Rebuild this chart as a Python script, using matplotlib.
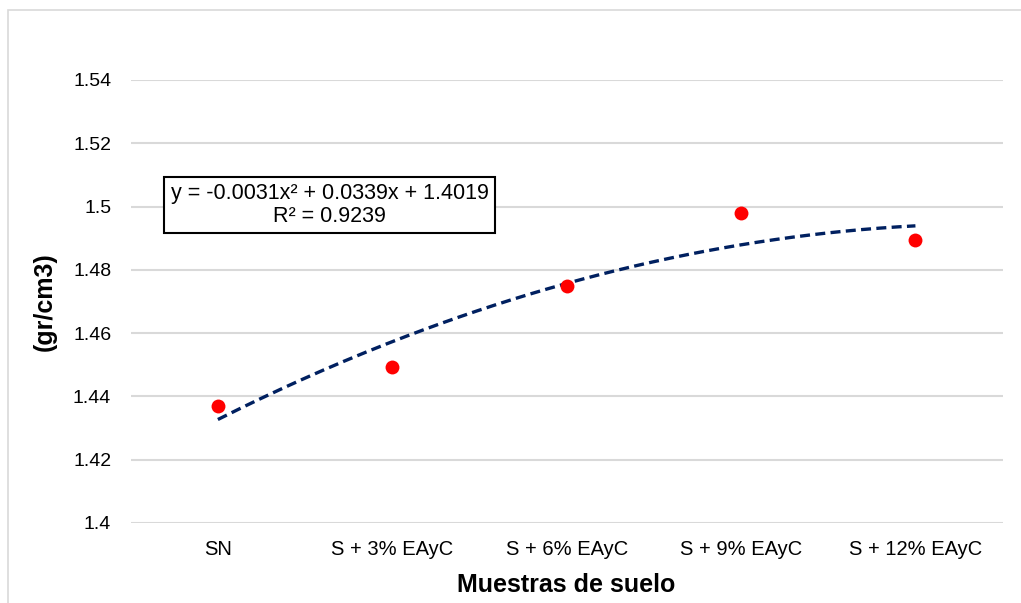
import numpy as np
import matplotlib
matplotlib.use("Agg")
import matplotlib.pyplot as plt
from matplotlib.patches import Rectangle

plt.rcParams['font.family'] = ['Liberation Sans', 'DejaVu Sans']

# muestras y densidad medida (gr/cm3)
muestras = ['SN', 'S + 3% EAyC', 'S + 6% EAyC', 'S + 9% EAyC', 'S + 12% EAyC']
densidad = [1.437, 1.4493, 1.4749, 1.4979, 1.4894]

# tendencia polinomica de orden 2 (x = 1..5)
coef = [-0.0031, 0.0339, 1.4019]
r2 = 0.9239

yticks = [1.4, 1.42, 1.44, 1.46, 1.48, 1.5, 1.52, 1.54]
ytick_labels = ['1.4', '1.42', '1.44', '1.46', '1.48', '1.5', '1.52', '1.54']

fig = plt.figure(figsize=(10.21, 6.03), dpi=100)
ax = fig.add_axes([0.128, 0.1327, 0.854, 0.7347])

x = np.arange(1, len(muestras) + 1)
ax.plot(x, densidad, 'o', color='#ff0000', ms=10, mec='none', zorder=3)

xt = np.linspace(1, len(muestras), 200)
ax.plot(xt, np.polyval(coef, xt), color='#002060', lw=2.4,
        linestyle=(0, (3, 1.6)), zorder=2)

ax.set_xlim(0.5, len(muestras) + 0.5)
ax.set_ylim(1.4, 1.54)
ax.set_xticks(x)
ax.set_xticklabels(muestras)
ax.set_yticks(yticks)
ax.set_yticklabels(ytick_labels)
ax.tick_params(axis='both', length=0, labelsize=14, colors='#000000')
ax.tick_params(axis='x', labelsize=14.5, pad=12)
ax.tick_params(axis='y', pad=14)
ax.grid(axis='y', color='#d9d9d9', lw=1.5)
ax.set_axisbelow(True)
for s in ax.spines.values():
    s.set_visible(False)

ax.set_xlabel('Muestras de suelo', fontsize=18, fontweight='bold', labelpad=10)
ax.set_ylabel('(gr/cm3)', fontsize=18, fontweight='bold', labelpad=12)

eq = 'y = {:.4f}x² + {:.4f}x + {:.4f}\nR² = {:.4f}'.format(coef[0], coef[1], coef[2], r2)
ax.text(1.641, 1.5005, eq, fontsize=15.5, ha='center', va='center',
        multialignment='center', linespacing=1.1,
        bbox=dict(boxstyle='square,pad=0.3', fc='white', ec='black', lw=1.5))

# borde del area del grafico
fig.patches.append(Rectangle((8 / 1021, -0.05), 1.2, 1 - 10 / 603 + 0.05,
                             transform=fig.transFigure, fill=False,
                             ec='#d9d9d9', lw=1.2))

fig.savefig('out.png', dpi=100)
